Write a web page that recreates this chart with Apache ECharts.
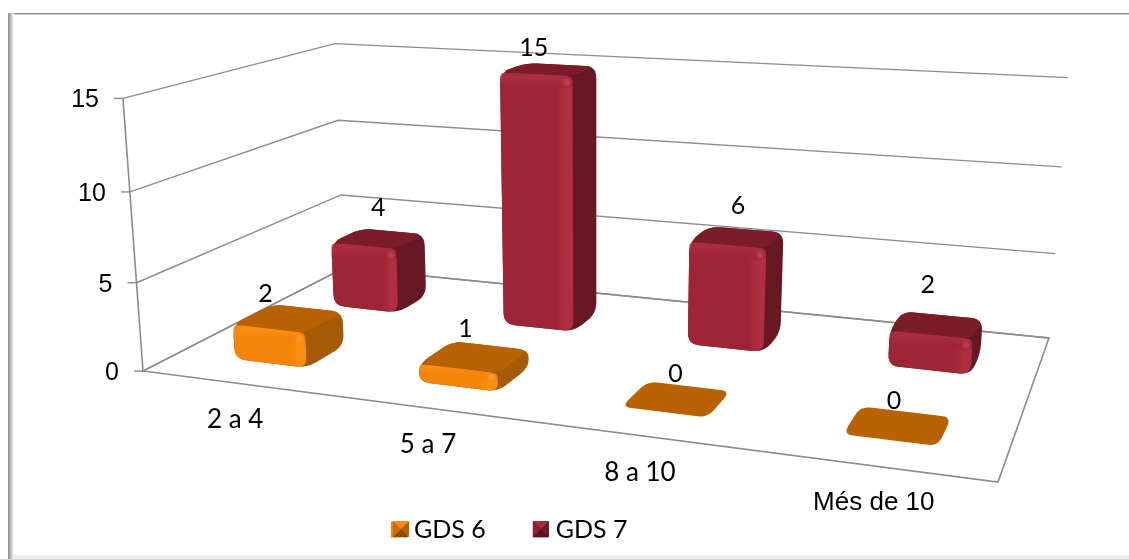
<!DOCTYPE html>
<html><head><meta charset="utf-8"><style>html,body{margin:0;padding:0;background:#fff}#c{width:1129px;height:559px}</style>
<script src="https://cdn.jsdelivr.net/npm/echarts@6/dist/echarts.min.js"></script></head><body><div id="c"></div>
<script>
var categories=['2 a 4','5 a 7','8 a 10','Més de 10'];
var gds6=[2,1,0,0];
var gds7=[4,15,6,2];
var yTicks=[0,5,10,15];
var yMax=15;
var seriesNames=['GDS 6','GDS 7'];

var floorQuad=[[143,371],[998,482],[1049,338],[344,268]];
var topRefs=[[0,0,123,98],[0,1,335,42],[1,1,1068,80]];
function homography(q){
  var x0=q[0][0],y0=q[0][1],x1=q[1][0],y1=q[1][1],x2=q[2][0],y2=q[2][1],x3=q[3][0],y3=q[3][1];
  var dx1=x1-x2,dx2=x3-x2,sx=x0-x1+x2-x3,dy1=y1-y2,dy2=y3-y2,sy=y0-y1+y2-y3;
  var det=dx1*dy2-dx2*dy1,g=(sx*dy2-dx2*sy)/det,h=(dx1*sy-sx*dy1)/det;
  return {a:x1-x0+g*x1,b:x3-x0+h*x3,c:x0,d:y1-y0+g*y1,e:y3-y0+h*y3,f:y0,g:g,h:h};
}
var H=homography(floorQuad);
// vertical direction of the projective camera, fitted to the known top corners
var V=(function(){
  var rows=[];
  topRefs.forEach(function(r){
    var u=r[0],w=r[1],X=r[2],Y=r[3],k=H.g*u+H.h*w+1;
    rows.push([1,0,-X,X*k-(H.a*u+H.b*w+H.c)]);
    rows.push([0,1,-Y,Y*k-(H.d*u+H.e*w+H.f)]);
  });
  var A=[[0,0,0,0],[0,0,0,0],[0,0,0,0]];
  rows.forEach(function(r){for(var i=0;i<3;i++){for(var j=0;j<3;j++)A[i][j]+=r[i]*r[j];A[i][3]+=r[i]*r[3];}});
  for(var i=0;i<3;i++){var p=A[i][i];for(var j=i;j<4;j++)A[i][j]/=p;for(var m=0;m<3;m++)if(m!==i){var q=A[m][i];for(var n=i;n<4;n++)A[m][n]-=q*A[i][n];}}
  return [A[0][3],A[1][3],A[2][3]];
})();
function project(u,w,t){
  var k=H.g*u+H.h*w+1+t*V[2];
  return [(H.a*u+H.b*w+H.c+t*V[0])/k,(H.d*u+H.e*w+H.f+t*V[1])/k];
}
function rounded(pts,r){
  var out=[],n=pts.length;
  for(var i=0;i<n;i++){
    var p=pts[i],a=pts[(i+n-1)%n],b=pts[(i+1)%n];
    var la=Math.hypot(a[0]-p[0],a[1]-p[1]),lb=Math.hypot(b[0]-p[0],b[1]-p[1]);
    var ra=Math.min(r,la*0.45),rb=Math.min(r,lb*0.45);
    var s=[p[0]+(a[0]-p[0])*ra/la,p[1]+(a[1]-p[1])*ra/la],e=[p[0]+(b[0]-p[0])*rb/lb,p[1]+(b[1]-p[1])*rb/lb];
    for(var k=0;k<=6;k++){var m=k/6;out.push([(1-m)*(1-m)*s[0]+2*m*(1-m)*p[0]+m*m*e[0],(1-m)*(1-m)*s[1]+2*m*(1-m)*p[1]+m*m*e[1]]);}
  }
  return out;
}
function lerp(a,b,t){return [a[0]+(b[0]-a[0])*t,a[1]+(b[1]-a[1])*t];}
function gradH(stops,x,y,x2,y2){return {type:'linear',x:x,y:y,x2:x2,y2:y2,global:true,colorStops:stops};}
var palettes=[
 {front:'#F4830A',hi:'#FB8F14',top:'#B86204',side:'#A55A06',spot:'#FFA53A',p:['#FB8B14','#C96E0A','#B86204','#8A4A06']},
 {front:'#9E2536',hi:'#AE2F41',top:'#7A1D29',side:'#681823',spot:'#C2465A',p:['#A52B3D','#8A2231','#6F1A26','#5A141E']}
];
var rowW=[[0.155,0.34],[0.645,0.815]],rowShift=[0.004,0.0045],rowHalfU=[0.05,0.0485];
// label offsets from the top centre of each bar, [series][category]
var labelNudge=[[[-17,3],[-3,-1],[5,2],[2,2]],[[6,-3],[-9,6],[7,-4],[-3,-13]]];
function toUnit(api,cat,val){var c=api.coord([cat,val]);return [c[0]/api.getWidth(),1-c[1]/api.getHeight()];}
function barRender(sIdx){return function(params,api){
  var cat=api.value(0),val=api.value(1),pal=palettes[sIdx];
  var uv=toUnit(api,cat,val),u=uv[0]+rowShift[sIdx],t=uv[1];
  var w0=rowW[sIdx][0],w1=rowW[sIdx][1],wc=(w0+w1)/2;
  var u0=u-rowHalfU[sIdx],u1=u+rowHalfU[sIdx];
  var kids=[];
  var tf=[project(u0,w0,t),project(u1,w0,t),project(u1,w1,t),project(u0,w1,t)];
  var topCentre=project(u,wc,t);
  if(val===0){
    kids.push({type:'polygon',shape:{points:rounded(tf,10)},style:{fill:pal.top}});
  }else{
    var bf=[project(u0,w0,0),project(u1,w0,0),project(u1,w1,0)];
    var sil=[bf[0],bf[1],bf[2],tf[2],tf[3],tf[0]];
    var r=11;
    kids.push({type:'polygon',shape:{points:rounded(sil,r)},style:{fill:pal.side}});
    kids.push({type:'polygon',shape:{points:rounded(tf,r)},style:{fill:pal.top}});
    var fr=[bf[0],bf[1],tf[1],tf[0]];
    var frPts=rounded(fr,r);
    var xa=tf[0][0],xb=tf[1][0];
    kids.push({type:'polygon',shape:{points:frPts},style:{fill:gradH([
      {offset:0,color:pal.front},{offset:0.74,color:pal.front},{offset:0.86,color:pal.hi},{offset:0.95,color:pal.hi},{offset:1,color:pal.side}],xa,0,xb+4,0)}});
    var a=tf[0],b=tf[1],c=lerp(tf[1],bf[1],Math.min(0.5,12/Math.abs(bf[1][1]-tf[1][1]))),d=lerp(tf[0],bf[0],Math.min(0.5,12/Math.abs(bf[0][1]-tf[0][1])));
    kids.push({type:'polygon',shape:{points:rounded([a,b,c,d],6)},style:{fill:gradH([
      {offset:0,color:pal.hi},{offset:0.5,color:pal.hi},{offset:1,color:pal.front}],0,a[1]-2,0,d[1]+2),opacity:0.8}});
    var sp=lerp(tf[1],tf[0],0.08);
    kids.push({type:'circle',shape:{cx:sp[0],cy:sp[1]+Math.min(7,Math.abs(bf[1][1]-tf[1][1])*0.25),r:5},style:{fill:{type:'radial',x:0.5,y:0.5,r:0.5,colorStops:[{offset:0,color:pal.spot},{offset:1,color:pal.spot+'00'}]}}});
  }
  var nd=labelNudge[sIdx][cat];
  kids.push({type:'text',z2:50,style:{text:String(val),x:topCentre[0]-6+nd[0],y:topCentre[1]-27+nd[1],align:'center',verticalAlign:'middle',font:'25px Lato, sans-serif',fill:'#000'}});
  return {type:'group',children:kids};
};}
function wallRender(params,api){
  var val=api.value(0),t=1-api.coord([0,val])[1]/api.getHeight();
  var a=project(0,0,t),b=project(0,1,t),c=project(1,1,t);
  var line={stroke:'#8C8C8C',lineWidth:1.4,fill:null};
  return {type:'group',children:[
    {type:'polyline',shape:{points:[a,b,c]},style:line},
    {type:'line',shape:{x1:a[0]-9,y1:a[1],x2:a[0],y2:a[1]},style:line},
    {type:'text',style:{text:String(val),x:a[0]-24,y:a[1]+2,align:'right',verticalAlign:'middle',font:'25px "Liberation Sans", sans-serif',fill:'#000'}}
  ]};
}
function floorRender(params,api){
  var cat=api.value(0),u=toUnit(api,cat,0)[0],p=project(u,0,0);
  return {type:'text',style:{text:categories[cat],x:p[0]+2,y:p[1]+37,align:'center',verticalAlign:'middle',font:cat===3?'26px "Liberation Sans", sans-serif':'26px Lato, sans-serif',fill:'#000'}};
}
function frameRender(params,api){
  var f=[project(0,0,0),project(1,0,0),project(1,1,0),project(0,1,0)];
  return {type:'group',children:[
    {type:'polygon',shape:{points:f},style:{fill:'#fff',stroke:'#8C8C8C',lineWidth:1.6}},
    {type:'line',shape:{x1:f[0][0],y1:f[0][1],x2:project(0,0,1)[0],y2:project(0,0,1)[1]},style:{stroke:'#8C8C8C',lineWidth:1.6}}
  ]};
}
function pyramid(x,y,s,p){
  var cx=x+s/2,cy=y+s/2,tl=[x,y],tr=[x+s,y],br=[x+s,y+s],bl=[x,y+s],c=[cx,cy];
  return [[tl,tr,c,p[0]],[tl,bl,c,p[1]],[tr,br,c,p[2]],[bl,br,c,p[3]]].map(function(o){
    return {type:'polygon',z:100,silent:true,shape:{points:[o[0],o[1],o[2]]},style:{fill:o[3]}};
  });
}
var catIdx=categories.map(function(_,i){return i;});
function pairs(v){return v.map(function(x,i){return [i,x];});}
var option={
  animation:false,
  backgroundColor:'#fff',
  grid:{left:0,right:0,top:0,bottom:0,containLabel:false},
  xAxis:{type:'category',data:categories,show:false},
  yAxis:{type:'value',min:0,max:yMax,show:false},
  legend:{data:seriesNames,left:386,top:512,itemWidth:16,itemHeight:16,itemGap:47,icon:'rect',textStyle:{fontFamily:'Lato, sans-serif',fontSize:25,color:'#000',padding:[0,0,0,2]}},
  graphic:[
    {type:'rect',shape:{x:8,y:13,width:1121,height:1.5},style:{fill:'#8F8F8F'},silent:true},
    {type:'rect',shape:{x:8,y:13,width:6,height:546},style:{fill:{type:'linear',x:0,y:0,x2:1,y2:0,colorStops:[{offset:0,color:'#8F8F8F'},{offset:0.4,color:'#B5B5B5'},{offset:1,color:'#FFFFFF'}]}},silent:true},
    {type:'rect',shape:{x:14,y:555,width:1115,height:4},style:{fill:'#ECECEC'},silent:true}
  ].concat(pyramid(393,521,16,palettes[0].p),pyramid(533,521,16,palettes[1].p)),
  series:[
    {type:'custom',name:'floor',data:[[0]],renderItem:frameRender,silent:true,z:1},
    {type:'custom',name:'walls',data:yTicks.map(function(v){return [v];}),encode:{y:0},renderItem:wallRender,silent:true,z:2},
    {type:'custom',name:'categories',data:catIdx.map(function(i){return [i];}),encode:{x:0},renderItem:floorRender,silent:true,z:3},
    {type:'custom',name:seriesNames[1],data:pairs(gds7),encode:{x:0,y:1},renderItem:barRender(1),itemStyle:{color:palettes[1].front},z:4},
    {type:'custom',name:seriesNames[0],data:pairs(gds6),encode:{x:0,y:1},renderItem:barRender(0),itemStyle:{color:palettes[0].front},z:5}
  ]
};
var chart=echarts.init(document.getElementById('c'));
chart.setOption(option);
</script></body></html>
